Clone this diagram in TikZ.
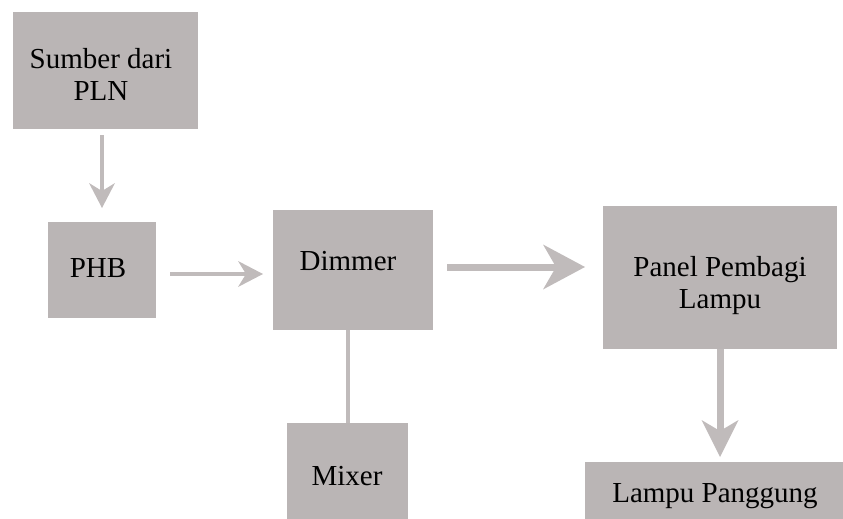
\documentclass[tikz,border=0pt]{standalone}
\usepackage{fontspec}
\setmainfont{Liberation Serif}
\usetikzlibrary{arrows.meta,calc}
\definecolor{boxgray}{RGB}{186,181,181}
\definecolor{arrgray}{RGB}{192,187,187}
\begin{document}
\begin{tikzpicture}[x=1pt,y=-1pt,
 box/.style={fill=boxgray, draw=none, inner sep=0pt, outer sep=0pt},
 lbl/.style={inner sep=0pt, outer sep=0pt, font=\fontsize{29}{32}\selectfont, align=center, text=black},
 arrowthin/.style={draw=arrgray, line width=4pt, -{Stealth[length=25pt,width=26pt,inset=8pt,line width=0pt]}},
 arrowthick/.style={draw=arrgray, line width=7pt},
 link/.style={draw=arrgray, line width=4pt}]
\useasboundingbox (0,0) rectangle (843,519);
% boxes
\node[box, minimum width=185pt, minimum height=117pt] (src) at (105.5,70.5) {};
\node[box, minimum width=108pt, minimum height=96pt] (phb) at (102,270) {};
\node[box, minimum width=160pt, minimum height=120pt] (dim) at (353,270) {};
\node[box, minimum width=121pt, minimum height=96pt] (mix) at (347.5,471) {};
\node[box, minimum width=234pt, minimum height=143pt] (pan) at (720,277.5) {};
\node[box, minimum width=258pt, minimum height=57pt] (lam) at (714,490.5) {};
% texts
\node[lbl, anchor=north] (srcT) at (101,48) {Sumber dari\\PLN};
\node[lbl, anchor=base] (phbT) at (98,277) {PHB};
\node[lbl, anchor=base] (dimT) at (348,270) {Dimmer};
\node[lbl, anchor=base] (mixT) at (347,485) {Mixer};
\node[lbl, anchor=north] (panT) at (720,256) {Panel Pembagi\\Lampu};
\node[lbl, anchor=base] (lamT) at (715,502) {Lampu Panggung};
% connectors
\draw[arrowthin, shorten <=6pt, shorten >=14pt] (src.south -| phb.north) -- (phb.north);
\draw[arrowthin, shorten <=14pt, shorten >=10pt] ([yshift=-4pt]phb.east) -- ([yshift=-4pt]phb.east -| dim.west);
\draw[arrowthick, -{Stealth[length=42pt,width=45pt,inset=13pt,line width=0pt]}, shorten <=14pt, shorten >=18pt] ([yshift=3pt]dim.east) -- ([yshift=3pt]dim.east -| pan.west);
\draw[arrowthick, -{Stealth[length=37pt,width=37pt,inset=11pt,line width=0pt]}, shorten >=5pt] (pan.south) -- (pan.south |- lam.north);
\draw[link] (dim.south -| mix.north) -- (mix.north);
\end{tikzpicture}
\end{document}
